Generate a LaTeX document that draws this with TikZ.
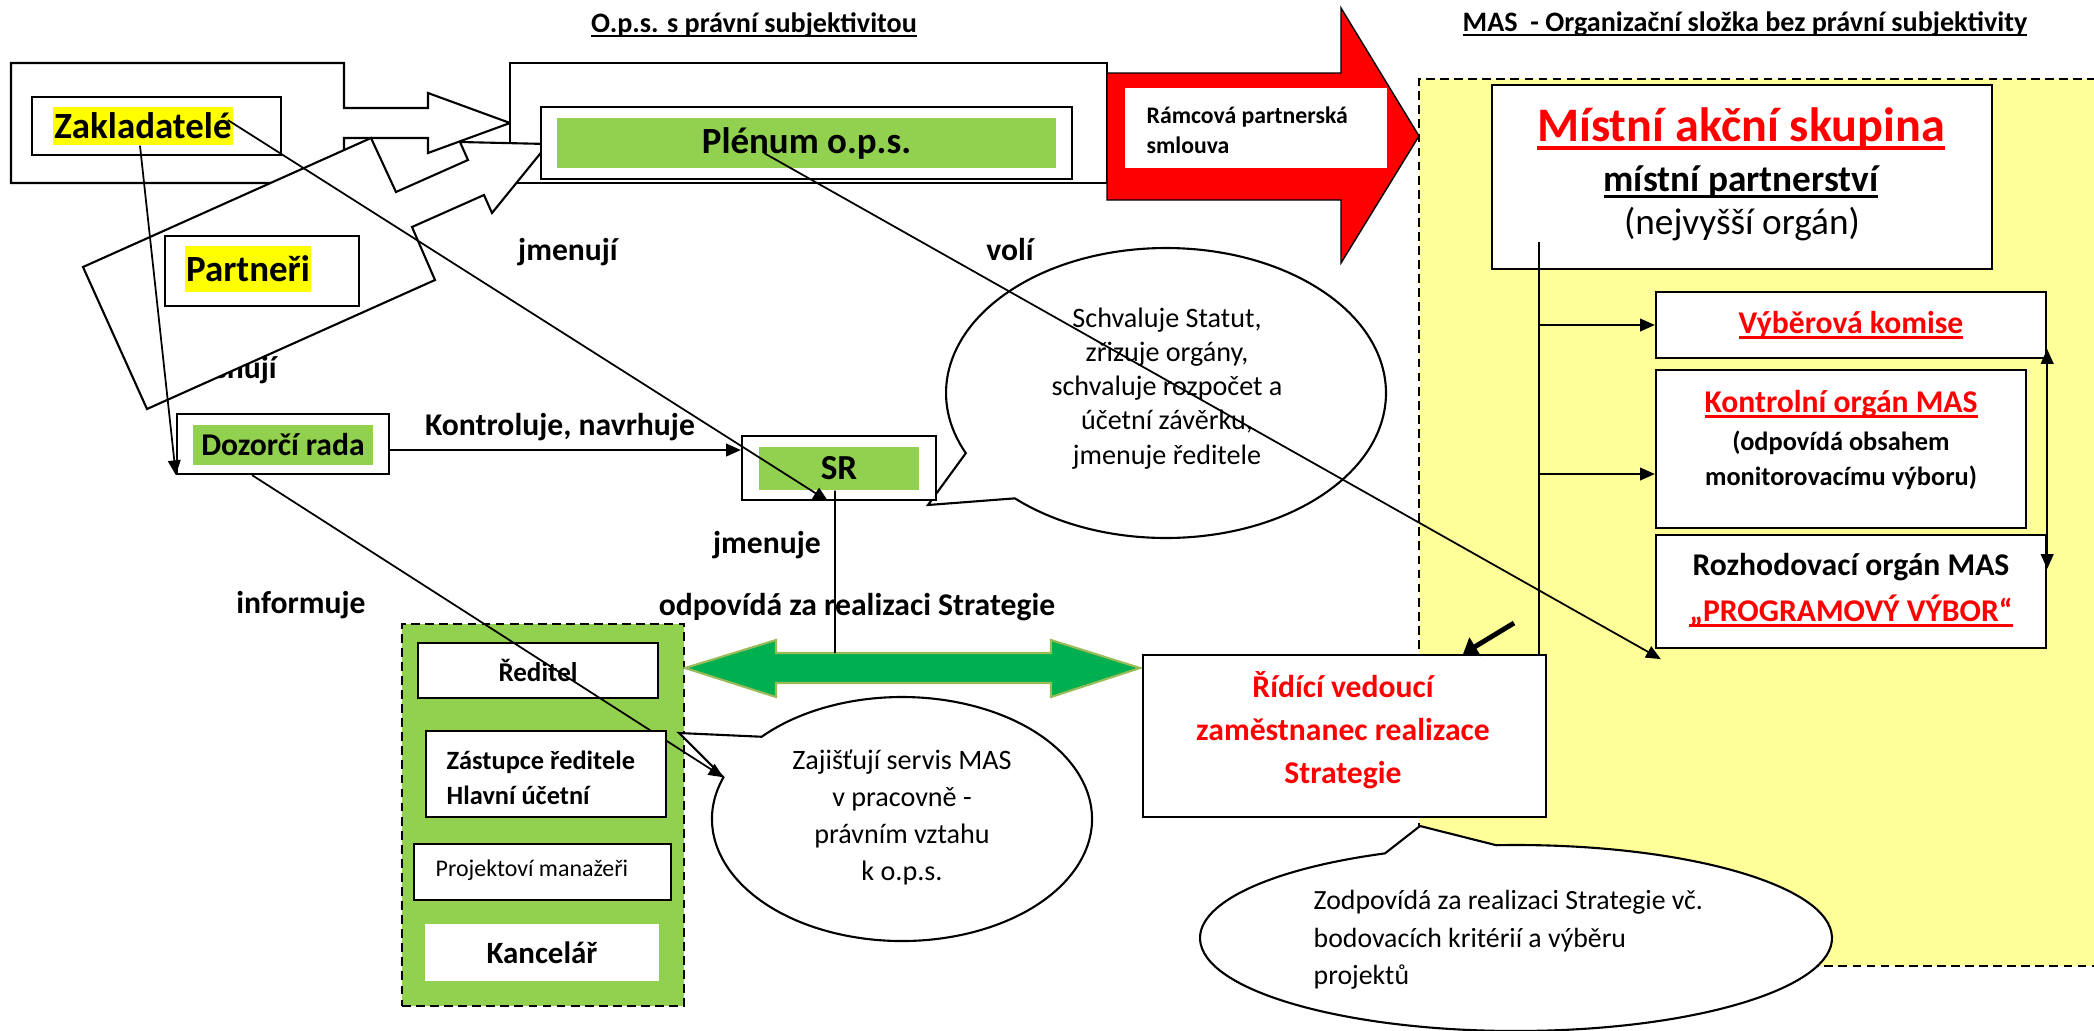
\documentclass[tikz,border=0pt]{standalone}
\usepackage{fontspec}
\setmainfont{Carlito}
\usetikzlibrary{arrows.meta}

\definecolor{masyellow}{HTML}{FFFF99}
\definecolor{hlyellow}{HTML}{FFFF00}
\definecolor{lightgreen}{HTML}{92D050}
\definecolor{arrowgreen}{HTML}{00B050}
\definecolor{arrowedge}{HTML}{9BBB59}

% Word-like underline, close under the baseline
\newcommand{\ulbar}[1]{\setbox0=\hbox{#1}\rlap{\rule[-0.18em]{\wd0}{0.09em}}\box0}

\tikzset{
  box/.style={draw, fill=white, line width=0.6pt, inner sep=0pt},
  hilite/.style={fill=#1, inner sep=0pt},
  bubble/.style={draw, fill=white, line width=0.6pt},
  head/.style={font=\fontsize{8}{10}\selectfont\bfseries, inner sep=0pt},
  big/.style={font=\fontsize{10.5}{12}\selectfont\bfseries, inner sep=0pt},
  lab/.style={font=\fontsize{9}{11}\selectfont\bfseries, inner sep=0pt},
  txt/.style={font=\fontsize{8}{9.7}\selectfont, align=center, inner sep=0pt},
  conn/.style={line width=0.5pt, -{Triangle[length=4.2pt,width=3.6pt]}},
}

\begin{document}
\begin{tikzpicture}[x=0.01cm, y=-0.01cm]
	\useasboundingbox (0,0) rectangle (2094,1030);

	% MAS area
	\fill[masyellow] (1419,79) rectangle (2110,966);
	\draw[line width=0.6pt, dash pattern=on 2.5pt off 1.5pt] (2110,79) -- (1419,79) -- (1419,966) -- (2110,966);

	% headings
	\node (opshead) at (754,25) [head] {\ulbar{O.p.s. s právní subjektivitou}};
	\node (mashead) at (1745,24) [head] {\ulbar{MAS\ \ - Organizační složka bez právní subjektivity}};

	% founders callout
	\draw[box] (11,63) -- (344,63) -- (344,108) -- (428,108) -- (428,93) -- (510,123) -- (428,153) -- (428,138) -- (344,138) -- (344,183) -- (11,183) -- cycle;
	\node (plenout) at (808.5,123) [box, minimum width=59.7mm, minimum height=12mm] {};

	\node (jmen2) at (227,370) [lab] {jmenují};

	% partners callout
	\draw[box] (83,267) -- (371,138) -- (396,192) -- (468,160) -- (460,142) -- (548,144) -- (492,213) -- (484,195) -- (412,227) -- (435,280) -- (147,409) -- cycle;

	\node (zakbox) at (156.5,126) [box, minimum width=24.9mm, minimum height=5.8mm] {};
	\node (zak) at (143,126) [hilite=hlyellow, big, minimum width=18mm, minimum height=3.8mm] {Zakladatelé};
	\node (parbox) at (262,271) [box, minimum width=19.4mm, minimum height=7mm] {};
	\node (par) at (248,269) [hilite=hlyellow, big, minimum width=12.6mm, minimum height=4.6mm] {Partneři};
	\node (plenbox) at (806.5,143) [box, minimum width=53.1mm, minimum height=7.2mm] {};
	\node (plen) at (806.5,143) [hilite=lightgreen, big, minimum width=49.9mm, minimum height=5mm] {Plénum o.p.s.};

	% red contract arrow
	\draw[fill=red, line width=0.4pt] (1107,73) -- (1341,73) -- (1341,8) -- (1419,136) -- (1341,263) -- (1341,200) -- (1107,200) -- cycle;
	\node (ramcbox) at (1256,128) [fill=white, inner sep=0pt, minimum width=26.2mm, minimum height=8mm] {};
	\node (ramc) at (1146,130) [anchor=west, align=left, inner sep=0pt, font=\fontsize{6.75}{8.5}\selectfont\bfseries] {Rámcová partnerská\\smlouva};

	% MAS bodies
	\node (masbox) at (1742,177) [box, minimum width=50mm, minimum height=18.4mm] {};
	\node (mastitle) at (1741,129) [inner sep=0pt, text=red, font=\fontsize{13.7}{16}\selectfont\bfseries] {\ulbar{Místní akční skupina}};
	\node (maspart) at (1741,182) [inner sep=0pt, font=\fontsize{10.6}{12}\selectfont\bfseries] {\ulbar{místní partnerství}};
	\node (masnote) at (1742,224) [inner sep=0pt, font=\fontsize{10.6}{12}\selectfont] {(nejvyšší orgán)};

	\node (vyber) at (1851,325) [box, lab, text=red, minimum width=39mm, minimum height=6.6mm] {\ulbar{Výběrová komise}};
	\node (kontr) at (1841,449) [box, minimum width=37mm, minimum height=15.8mm] {};
	\node (kontrt) at (1841,404) [lab, text=red] {\ulbar{Kontrolní orgán MAS}};
	\node (kontrn) at (1841,460.5) [align=center, inner sep=0pt, font=\fontsize{7.5}{10}\selectfont\bfseries] {(odpovídá obsahem\\monitorovacímu výboru)};
	\node (rozh) at (1851,591.5) [box, minimum width=39mm, minimum height=11.3mm] {};
	\node (rozht) at (1851,567) [lab] {Rozhodovací orgán MAS};
	\node (prog) at (1851,611) [lab, text=red] {\ulbar{„PROGRAMOVÝ VÝBOR“}};

	% staff
	\node (staff) at (543,815) [draw, fill=lightgreen, line width=0.6pt, dash pattern=on 2.5pt off 1.5pt, minimum width=28.2mm, minimum height=38.2mm] {};
	\node (reditel) at (538,670.5) [box, minimum width=24mm, minimum height=5.5mm, font=\fontsize{7.7}{9}\selectfont\bfseries] {Ředitel};

	% speech bubbles
	\coordinate (schvc) at (1166,393);
	\coordinate (schvtip) at (928,505);
	\draw[bubble] ([shift={(155.5:220 and 145)}]schvc) -- (schvtip) -- ([shift={(133.4:220 and 145)}]schvc) arc[start angle=133.4, end angle=-204.5, x radius=220, y radius=145] -- cycle;
	\node (schvt) at (1167,388.5) [txt] {Schvaluje Statut,\\zřizuje orgány,\\schvaluje rozpočet a\\účetní závěrku,\\jmenuje ředitele};

	\coordinate (zajc) at (902,819);
	\coordinate (zajtip) at (679,733);
	\draw[bubble] ([shift={(222.4:190 and 122)}]zajc) -- (zajtip) -- ([shift={(200:190 and 122)}]zajc) coordinate (zajbase) arc[start angle=200, end angle=-137.6, x radius=190, y radius=122] -- cycle;
	\node (zajt) at (902,817.5) [txt, font=\fontsize{8}{10.5}\selectfont] {Zajišťují servis MAS\\v pracovně -\\právním vztahu\\k o.p.s.};

	\coordinate (zodc) at (1516,938);
	\coordinate (zodtip) at (1420,826);
	\draw[bubble] ([shift={(245.5:316 and 93)}]zodc) -- (zodtip) -- ([shift={(266.4:316 and 93)}]zodc) arc[start angle=266.4, end angle=605.5, x radius=316, y radius=93] -- cycle;
	\node (zodt) at (1313,940) [txt, anchor=west, align=left, font=\fontsize{7.9}{10.7}\selectfont] {Zodpovídá za realizaci Strategie vč.\\bodovacích kritérií a výběru\\projektů};

	% supervisory board and SR
	\node (dozbox) at (283,444) [box, minimum width=21.2mm, minimum height=6mm] {};
	\node (doz) at (283,445) [hilite=lightgreen, lab, minimum width=18mm, minimum height=4mm] {Dozorčí rada};
	\node (srbox) at (839,468) [box, minimum width=19.4mm, minimum height=6.4mm] {};
	\node (sr) at (839,468.5) [hilite=lightgreen, font=\fontsize{10}{12}\selectfont\bfseries, minimum width=16mm, minimum height=4.3mm] {SR};

	% green double arrow
	\draw[fill=arrowgreen, draw=arrowedge, line width=0.6pt] (685,668) -- (776,640) -- (776,653) -- (1051,653) -- (1051,640) -- (1140,668) -- (1051,697) -- (1051,683) -- (776,683) -- (776,697) -- cycle;
	\coordinate (gtop) at (835,653);

	\node (ridici) at (1344.5,736) [box, minimum width=40.3mm, minimum height=16.2mm] {};
	\node (ridicit) at (1343,730) [lab, text=red, align=center, font=\fontsize{9}{12.2}\selectfont\bfseries] {Řídící vedoucí\\zaměstnanec realizace\\Strategie};

	% labels
	\node (jmen1) at (568,252) [lab] {jmenují};
	\node (voli) at (1010,250) [lab] {volí};
	\node (kontrlab) at (560,427) [lab] {Kontroluje, navrhuje};
	\node (inform) at (301,605) [lab] {informuje};
	\node (jmenuje) at (767,545) [lab] {jmenuje};
	\node (odpov) at (857,607) [lab] {odpovídá za realizaci Strategie};

	% connectors
	\draw[conn] ([xshift=-0.3mm]zak.south) -- (dozbox.south west);
	\draw[conn] ([shift={(-0.6mm,0.6mm)}]zak.east) -- ([xshift=-1.1mm]srbox.south);
	\draw[conn] ([shift={(-4.25mm,-1mm)}]plen.center) -- ([shift={(0.6mm,-1mm)}]rozh.south west);
	\coordinate (dozout) at ([yshift=-0.6mm]dozbox.east);
	\draw[conn] (dozout) -- (dozout -| srbox.west);
	\draw[conn] ([xshift=-3.1mm]dozbox.south) -- (zajbase);
	\draw[line width=0.5pt] ([xshift=-0.4mm]sr.south) -- (gtop);

	\coordinate (mastop) at (1539,242);
	\draw[line width=0.5pt] (mastop) -- (mastop |- ridici.north);
	\draw[conn] (mastop |- vyber.west) -- (vyber.west);
	\coordinate (kontrin) at ([yshift=-2.5mm]kontr.west);
	\draw[conn] (mastop |- kontrin) -- (kontrin);
	\draw[line width=0.5pt, {Triangle[length=4.2pt,width=3.6pt]}-{Triangle[length=4.2pt,width=3.6pt]}] ([yshift=1mm]vyber.south east) -- ([yshift=-3.5mm]rozh.north east);
	\coordinate (thk) at (1514,623);
	\draw[line width=1.4pt, -{Triangle[length=4pt,width=6pt]}] (thk) -- ([xshift=11.85mm]ridici.north);

	% staff boxes over the line
	\node (zast) at (546,774) [box, minimum width=24mm, minimum height=8.6mm] {};
	\node (zastt) at (446,777.5) [anchor=west, align=left, inner sep=0pt, font=\fontsize{7.5}{10}\selectfont\bfseries] {Zástupce ředitele\\Hlavní účetní};
	\node (proj) at (542.5,872) [box, minimum width=25.7mm, minimum height=5.6mm] {};
	\node (projt) at (435,870) [anchor=west, inner sep=0pt, font=\fontsize{6.8}{8}\selectfont] {Projektoví manažeři};
	\node (kanc) at (542,952.5) [fill=white, inner sep=0pt, minimum width=23.4mm, minimum height=5.7mm, font=\fontsize{8.8}{10}\selectfont\bfseries] {Kancelář};
\end{tikzpicture}
\end{document}
